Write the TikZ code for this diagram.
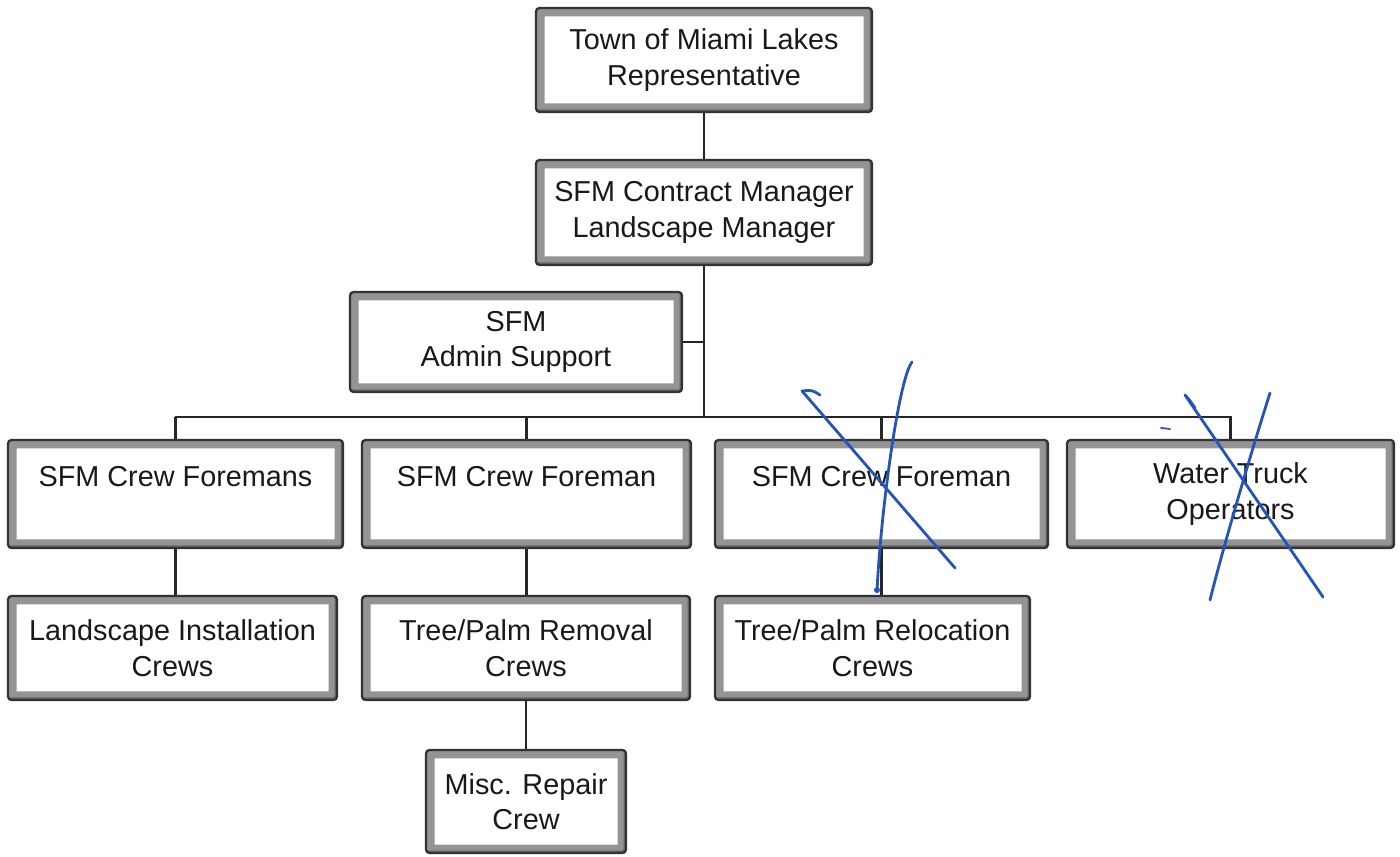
\documentclass[tikz,border=0pt]{standalone}
\usepackage{fontspec}
\setmainfont{Liberation Sans}
\definecolor{inkblue}{RGB}{35,85,185}
\begin{document}
\begin{tikzpicture}[x=0.02cm,y=-0.02cm,
  orgbox/.style 2 args={rectangle, minimum width=#1*0.02cm, minimum height=#2*0.02cm,
    inner sep=0pt, fill=white, draw=black!80, line width=1.3pt, rounded corners=2pt,
    align=center, font=\fontsize{16.4}{20.2}\selectfont, text=black!90,
    path picture={
      \draw[black!42, line width=17*0.02cm] (path picture bounding box.south west) rectangle (path picture bounding box.north east);
      \draw[black!60, line width=5*0.02cm] (path picture bounding box.south west) -- (path picture bounding box.south east) -- (path picture bounding box.north east);
    }},
  link/.style={draw=black!85, line width=1.2pt},
  pen/.style={draw=inkblue, line width=1.6pt, line cap=round, line join=round}]
\useasboundingbox (0,0) rectangle (1400,857);

\node[orgbox={336}{104}] (top) at (704,60) {Town of Miami Lakes\\Representative};
\node[orgbox={336}{105}] (mgr) at (704,212.5) {SFM Contract Manager\\Landscape Manager};
\node[orgbox={332}{100}] (admin) at (516,342) {SFM\\Admin Support};
\node[orgbox={335}{108}] (f1) at (175.5,494) {SFM Crew Foremans\\\mbox{}};
\node[orgbox={329}{108}] (f2) at (526.5,494) {SFM Crew Foreman\\\mbox{}};
\node[orgbox={333}{108}] (f3) at (881.5,494) {SFM Crew Foreman\\\mbox{}};
\node[orgbox={327}{108}] (f4) at (1230.5,494) {Water Truck\\Operators};
\node[orgbox={329}{104}] (c1) at (172.5,648) {Landscape Installation\\Crews};
\node[orgbox={328}{104}] (c2) at (526,648) {Tree/Palm Removal\\Crews};
\node[orgbox={315}{104}] (c3) at (872.5,648) {Tree/Palm Relocation\\Crews};
\node[orgbox={200}{103}] (misc) at (526,801.5) {Misc. Repair\\Crew};

\coordinate (j) at (704,342);
\coordinate (bus) at (704,417);
\coordinate (busL) at (175,417);
\coordinate (busR) at (1232,417);

\draw[link] (top.south) -- (mgr.north);
\draw[link] (mgr.south) -- (bus);
\draw[link] (admin.east) -- (j);
\draw[link] (busL) -- (busR);
\draw[link] (f1.north) -- (f1.north |- busL);
\draw[link] (f2.north) -- (f2.north |- busL);
\draw[link] (f3.north) -- (f3.north |- busL);
\draw[link] (f4.north) -- (f4.north |- busL);
\draw[link] (f1.south) -- (f1.south |- c1.north);
\draw[link] (f2.south) -- (f2.south |- c2.north);
\draw[link] (c2.south) -- (c2.south |- misc.north);
\draw[link] (f3.south) -- (f3.south |- c3.north);

% handwritten crosses
\draw[pen] (820,395) .. controls (812,390) .. (802,391) -- (955,568);
\draw[pen] (912,362) .. controls (898,380) and (880,520) .. (877,592);
\fill[inkblue] (877,590) circle (3);
\draw[pen] (1195,408) .. controls (1188,398) .. (1185,395) -- (1323,597);
\draw[pen] (1270,393) .. controls (1255,440) and (1225,540) .. (1210,600);
\draw[pen, line width=1pt] (1161,428) -- (1170,429);
\end{tikzpicture}
\end{document}
